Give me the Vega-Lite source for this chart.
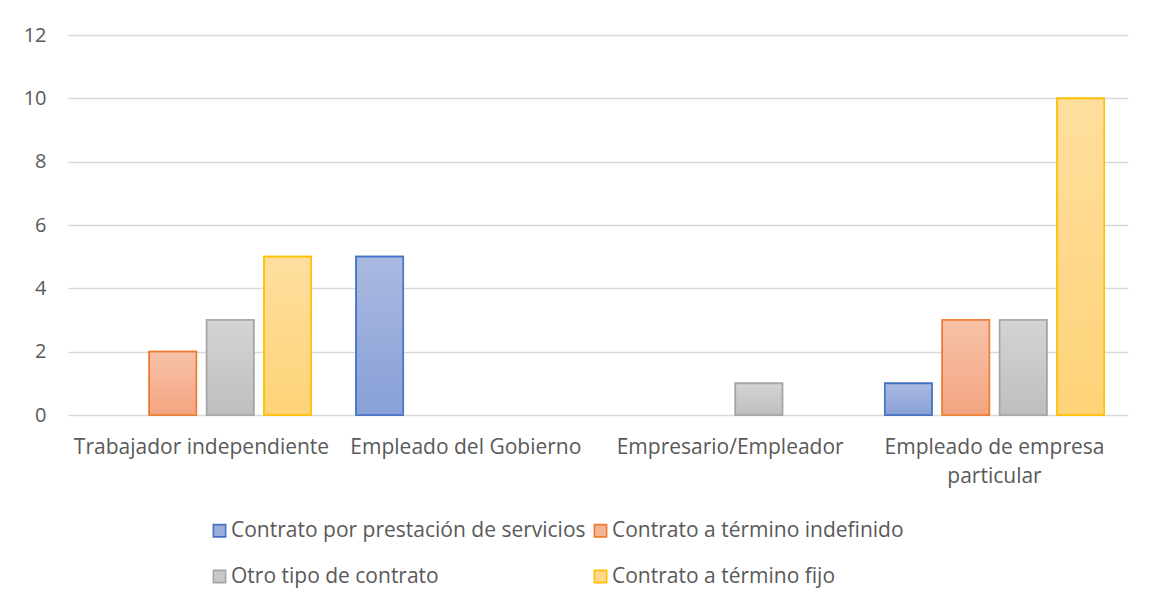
{
  "$schema": "https://vega.github.io/schema/vega-lite/v6.json",
  "width": 1060,
  "height": 380,
  "autosize": {"type": "none"},
  "padding": {"left": 68, "top": 35, "right": 22, "bottom": 190},
  "background": "#ffffff",
  "data": {
    "values": [
      {"categoria": "Trabajador independiente", "serie": "Contrato por prestación de servicios", "valor": 0},
      {"categoria": "Trabajador independiente", "serie": "Contrato a término indefinido", "valor": 2},
      {"categoria": "Trabajador independiente", "serie": "Otro tipo de contrato", "valor": 3},
      {"categoria": "Trabajador independiente", "serie": "Contrato a término fijo", "valor": 5},
      {"categoria": "Empleado del Gobierno", "serie": "Contrato por prestación de servicios", "valor": 5},
      {"categoria": "Empleado del Gobierno", "serie": "Contrato a término indefinido", "valor": 0},
      {"categoria": "Empleado del Gobierno", "serie": "Otro tipo de contrato", "valor": 0},
      {"categoria": "Empleado del Gobierno", "serie": "Contrato a término fijo", "valor": 0},
      {"categoria": "Empresario/Empleador", "serie": "Contrato por prestación de servicios", "valor": 0},
      {"categoria": "Empresario/Empleador", "serie": "Contrato a término indefinido", "valor": 0},
      {"categoria": "Empresario/Empleador", "serie": "Otro tipo de contrato", "valor": 1},
      {"categoria": "Empresario/Empleador", "serie": "Contrato a término fijo", "valor": 0},
      {"categoria": "Empleado de empresa particular", "serie": "Contrato por prestación de servicios", "valor": 1},
      {"categoria": "Empleado de empresa particular", "serie": "Contrato a término indefinido", "valor": 3},
      {"categoria": "Empleado de empresa particular", "serie": "Otro tipo de contrato", "valor": 3},
      {"categoria": "Empleado de empresa particular", "serie": "Contrato a término fijo", "valor": 10}
    ]
  },
  "encoding": {
    "x": {
      "field": "categoria",
      "type": "nominal",
      "scale": {"domain": ["Trabajador independiente", "Empleado del Gobierno", "Empresario/Empleador", "Empleado de empresa particular"], "paddingInner": 0.17, "paddingOuter": 0.09},
      "axis": {
        "title": null,
        "labelAngle": 0,
        "domain": false,
        "ticks": false,
        "labelPadding": 21,
        "labelFont": "Open Sans",
        "labelFontSize": 21,
        "labelColor": "#595959",
        "labelLineHeight": 29,
        "labelLimit": 400,
        "labelOverlap": false,
        "labelExpr": "datum.value == 'Empleado de empresa particular' ? ['Empleado de empresa', 'particular'] : datum.value"
      }
    },
    "xOffset": {
      "field": "serie",
      "type": "nominal",
      "scale": {"domain": ["Contrato por prestación de servicios", "Contrato a término indefinido", "Otro tipo de contrato", "Contrato a término fijo"], "paddingInner": 0.18, "paddingOuter": 0}
    },
    "y": {
      "field": "valor",
      "type": "quantitative",
      "scale": {"domain": [0, 12]},
      "axis": {
        "title": null,
        "values": [0, 2, 4, 6, 8, 10, 12],
        "domain": false,
        "ticks": false,
        "labelPadding": 22,
        "labelFont": "Open Sans",
        "labelFontSize": 20,
        "labelColor": "#595959",
        "gridColor": "#D9D9D9",
        "gridWidth": 1.3
      }
    }
  },
  "layer": [
    {
      "transform": [{"filter": "datum.valor > 0"}],
      "mark": {"type": "bar", "strokeWidth": 1.6},
      "encoding": {
        "fill": {
          "field": "serie",
          "type": "nominal",
          "scale": {
            "domain": ["Contrato por prestación de servicios", "Contrato a término indefinido", "Otro tipo de contrato", "Contrato a término fijo"],
            "range": ["#99ACDC", "#F5B394", "#C9C9C9", "#FED98B"]
          },
          "legend": {
            "title": null,
            "orient": "none",
            "legendX": 141,
            "legendY": 485,
            "direction": "horizontal",
            "columns": 2,
            "columnPadding": 4,
            "rowPadding": 24,
            "symbolType": "square",
            "symbolSize": 150,
            "symbolStrokeWidth": 1.6,
            "labelFont": "Open Sans",
            "labelFontSize": 21,
            "labelColor": "#595959",
            "labelOffset": 1,
            "labelLimit": 500
          }
        },
        "stroke": {
          "field": "serie",
          "type": "nominal",
          "scale": {
            "domain": ["Contrato por prestación de servicios", "Contrato a término indefinido", "Otro tipo de contrato", "Contrato a término fijo"],
            "range": ["#4472C4", "#ED7D31", "#A5A5A5", "#FFC000"]
          },
          "legend": {
            "title": null,
            "orient": "none",
            "legendX": 141,
            "legendY": 485,
            "direction": "horizontal",
            "columns": 2,
            "columnPadding": 4,
            "rowPadding": 24,
            "symbolType": "square",
            "symbolSize": 150,
            "symbolStrokeWidth": 1.6,
            "labelFont": "Open Sans",
            "labelFontSize": 21,
            "labelColor": "#595959",
            "labelOffset": 1,
            "labelLimit": 500
          }
        }
      }
    },
    {
      "transform": [{"filter": "datum.valor > 0 && datum.serie == 'Contrato por prestación de servicios'"}],
      "mark": {"type": "bar", "strokeWidth": 1.6, "stroke": "#4472C4",
        "fill": {"gradient": "linear", "x1": 0, "y1": 0, "x2": 0, "y2": 1, "stops": [{"offset": 0, "color": "#AAB9E1"}, {"offset": 1, "color": "#88A0D7"}]}}
    },
    {
      "transform": [{"filter": "datum.valor > 0 && datum.serie == 'Contrato a término indefinido'"}],
      "mark": {"type": "bar", "strokeWidth": 1.6, "stroke": "#ED7D31",
        "fill": {"gradient": "linear", "x1": 0, "y1": 0, "x2": 0, "y2": 1, "stops": [{"offset": 0, "color": "#F7C2A9"}, {"offset": 1, "color": "#F4A480"}]}}
    },
    {
      "transform": [{"filter": "datum.valor > 0 && datum.serie == 'Otro tipo de contrato'"}],
      "mark": {"type": "bar", "strokeWidth": 1.6, "stroke": "#A5A5A5",
        "fill": {"gradient": "linear", "x1": 0, "y1": 0, "x2": 0, "y2": 1, "stops": [{"offset": 0, "color": "#D4D4D4"}, {"offset": 1, "color": "#BEBEBE"}]}}
    },
    {
      "transform": [{"filter": "datum.valor > 0 && datum.serie == 'Contrato a término fijo'"}],
      "mark": {"type": "bar", "strokeWidth": 1.6, "stroke": "#FFC000",
        "fill": {"gradient": "linear", "x1": 0, "y1": 0, "x2": 0, "y2": 1, "stops": [{"offset": 0, "color": "#FFDE9E"}, {"offset": 1, "color": "#FED378"}]}}
    }
  ],
  "config": {
    "view": {"stroke": null}
  }
}
